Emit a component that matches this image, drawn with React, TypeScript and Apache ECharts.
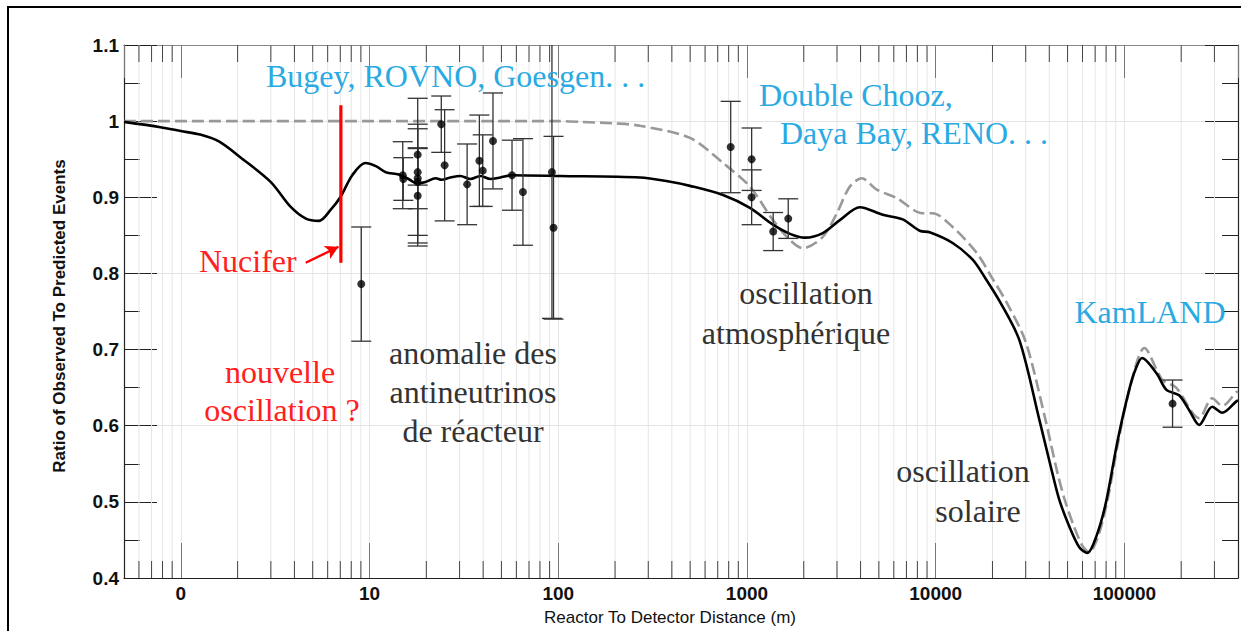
import { useEffect, useRef } from "react";
import * as echarts from "echarts";

// ---- axes ----
const xMin = 0.5;
const xMax = 400000;
const yMin = 0.4;
const yMax = 1.1;
const xTickValues = [1, 10, 100, 1000, 10000, 100000];
const xTickLabels = ["0", "10", "100", "1000", "10000", "100000"];
const minorTickValues = [
  0.6, 0.7, 0.8, 0.9,
  2, 3, 4, 5, 6, 7, 8, 9,
  20, 30, 40, 50, 60, 70, 80, 90,
  200, 300, 400, 500, 600, 700, 800, 900,
  2000, 3000, 4000, 5000, 6000, 7000, 8000, 9000,
  20000, 30000, 40000, 50000, 60000, 70000, 80000, 90000,
  200000, 300000,
];

// ---- curve with sterile neutrino (solid) ----
const solidDist = [
  0.5, 0.78, 1.0, 1.28, 1.6, 2.08, 3.0, 3.8, 4.6, 5.4, 6.2, 7.0, 8.1, 9.5, 10.8,
  12.2, 14.3, 16.1, 18.0, 19.8, 22.4, 24.1, 26.8, 30.3, 34.2, 38.7, 43.7, 49.3,
  56.9, 102, 271, 380, 499, 747, 1037, 1374, 1690, 2028, 2524, 3105, 3963, 5245,
  6687, 8230, 9290, 12300, 15700, 18200, 22000, 27800, 35500, 41600, 45300,
  51200, 57800, 63700, 71100, 80000, 92000, 106000, 115000, 124000, 148000,
  167000, 195000, 221000, 249000, 292000, 330000, 392000, 400000,
];
const solidRatio = [
  0.999, 0.992, 0.987, 0.982, 0.973, 0.952, 0.92, 0.888, 0.872, 0.869, 0.883,
  0.9, 0.929, 0.945, 0.941, 0.933, 0.93, 0.924, 0.918, 0.92, 0.925, 0.923, 0.926,
  0.928, 0.924, 0.928, 0.924, 0.926, 0.929, 0.928, 0.926, 0.921, 0.915, 0.903,
  0.886, 0.864, 0.852, 0.847, 0.853, 0.87, 0.887, 0.877, 0.871, 0.856, 0.854,
  0.84, 0.818, 0.795, 0.762, 0.712, 0.607, 0.537, 0.502, 0.467, 0.44, 0.433,
  0.455, 0.5, 0.58, 0.647, 0.675, 0.689, 0.669, 0.647, 0.64, 0.62, 0.601, 0.625,
  0.617, 0.632, 0.633,
];

// ---- standard 3-flavour curve (dashed) ----
const dashedDist = [
  0.5, 100, 131, 200, 271, 499, 747, 1037, 1374, 1690, 1978, 2524, 2993, 3508,
  4058, 4874, 6220, 8535, 9636, 12300, 16500, 19800, 24000, 30000, 38000, 44000,
  48000, 54000, 60000, 65000, 72000, 81000, 93000, 107000, 127600, 159000,
  188000, 249000, 292000, 330000, 392000, 400000,
];
const dashedRatio = [
  1.0, 1.0, 0.999, 0.997, 0.994, 0.978, 0.945, 0.914, 0.87, 0.844, 0.833, 0.848,
  0.879, 0.914, 0.925, 0.91, 0.899, 0.879, 0.879, 0.861, 0.827, 0.795, 0.76,
  0.71, 0.61, 0.54, 0.505, 0.468, 0.442, 0.434, 0.452, 0.5, 0.58, 0.65, 0.702,
  0.66, 0.65, 0.61, 0.636, 0.626, 0.644, 0.645,
];

// ---- measurements ----
const pointDist = [
  9.04, 15.0, 15.1, 18.0, 18.0, 18.0, 18.0, 18.0, 24.0, 25.0, 32.9, 38.2, 39.8,
  45.1, 56.9, 65.0, 92.6, 94.4, 820, 1059, 1059, 1377, 1655, 180000,
];
const pointRatio = [
  0.786, 0.929, 0.924, 0.956, 0.933, 0.925, 0.92, 0.902, 0.996, 0.942, 0.917,
  0.948, 0.935, 0.974, 0.929, 0.907, 0.933, 0.86, 0.966, 0.95, 0.9, 0.855, 0.872,
  0.629,
];
const pointErr = [
  0.075, 0.044, 0.028, 0.04, 0.097, 0.04, 0.07, 0.062, 0.037, 0.073, 0.053, 0.06,
  0.047, 0.063, 0.046, 0.07, 0.192, 0.12, 0.06, 0.041, 0.036, 0.025, 0.026,
  0.031,
];

// ---- Nucifer marker ----
const nuciferDist = 7.05;
const nuciferRange = [0.814, 1.021];
const arrowFrom = [4.59, 0.814];
const arrowTo = [6.85, 0.835];

const BLUE = "#2aaae2";
const RED = "#ff2020";
const DARK = "#333333";
const SERIF = '32px "Liberation Serif", "DejaVu Serif", serif';

export default function App() {
  const ref = useRef<HTMLDivElement>(null);

  useEffect(() => {
    const chart = echarts.init(ref.current!, null, { renderer: "svg" });

    const labelStyle = {
      fontSize: 19,
      fontWeight: "bold" as const,
      fontFamily: '"Liberation Sans", Arial, sans-serif',
      color: "#111",
    };

    const txt = (
      text: string,
      x: number,
      y: number,
      fill: string,
      align: string = "center"
    ) => ({
      type: "text",
      x,
      y,
      z: 100,
      style: {
        text,
        fill,
        font: SERIF,
        textAlign: align,
        textVerticalAlign: "middle",
      },
    });

    const option: any = {
      animation: false,
      backgroundColor: "#fff",
      grid: { left: 124, top: 45, width: 1114, height: 533, containLabel: false },
      xAxis: [
        {
          type: "log",
          logBase: 10,
          min: xMin,
          max: xMax,
          position: "bottom",
          axisLine: { lineStyle: { color: "#222", width: 1.2 } },
          axisTick: { inside: true, length: 35, lineStyle: { color: "#777" } },
          axisLabel: {
            ...labelStyle,
            margin: 6,
            showMinLabel: false,
            showMaxLabel: false,
            formatter: (v: number) => {
              const i = xTickValues.findIndex(
                (t) => Math.abs(Math.log10(t) - Math.log10(v)) < 1e-6
              );
              return i >= 0 ? xTickLabels[i] : "";
            },
          },
          splitLine: { show: true, lineStyle: { color: "#e6e6e6" } },
        },
        {
          type: "log",
          logBase: 10,
          min: xMin,
          max: xMax,
          position: "top",
          axisLine: { lineStyle: { color: "#888", width: 1.2 } },
          axisTick: { inside: true, length: 33, lineStyle: { color: "#777" } },
          axisLabel: { show: false },
          splitLine: { show: false },
        },
      ],
      yAxis: [
        {
          type: "value",
          min: yMin,
          max: yMax,
          interval: 0.1,
          position: "left",
          axisLine: { show: true, lineStyle: { color: "#222", width: 1.2 } },
          axisTick: { inside: true, length: 33, lineStyle: { color: "#222" } },
          minorTick: { show: true, splitNumber: 2, length: 16, lineStyle: { color: "#222" } },
          axisLabel: {
            ...labelStyle,
            margin: 5,
            formatter: (v: number) => String(Math.round(v * 10) / 10),
          },
          splitLine: { show: false },
        },
        {
          type: "value",
          min: yMin,
          max: yMax,
          interval: 0.1,
          position: "right",
          axisLine: { show: true, lineStyle: { color: "#222", width: 1.2 } },
          axisTick: { inside: true, length: 33, lineStyle: { color: "#222" } },
          minorTick: { show: true, splitNumber: 2, length: 16, lineStyle: { color: "#222" } },
          axisLabel: { show: false },
          splitLine: { show: false },
        },
        {
          type: "value",
          min: yMin,
          max: yMax,
          interval: 0.2,
          position: "left",
          axisLine: { show: false },
          axisTick: { show: false },
          axisLabel: { show: false },
          splitLine: { show: true, lineStyle: { color: "#e3e3e3" } },
        },
      ],
      series: [
        {
          type: "custom",
          name: "minor",
          silent: true,
          z: 1,
          xAxisIndex: 0,
          yAxisIndex: 0,
          data: minorTickValues.map((v) => [v, yMin]),
          renderItem: (_p: any, api: any) => {
            const v = api.value(0);
            const b = api.coord([v, yMin]);
            const t = api.coord([v, yMax]);
            return {
              type: "group",
              children: [
                {
                  type: "line",
                  shape: { x1: b[0], y1: b[1], x2: t[0], y2: t[1] },
                  style: { stroke: "#e6e6e6", lineWidth: 1 },
                },
                {
                  type: "line",
                  shape: { x1: b[0], y1: b[1], x2: b[0], y2: b[1] - 17 },
                  style: { stroke: "#444", lineWidth: 1 },
                },
                {
                  type: "line",
                  shape: { x1: t[0], y1: t[1], x2: t[0], y2: t[1] + 17 },
                  style: { stroke: "#444", lineWidth: 1 },
                },
              ],
            };
          },
        },
        {
          type: "line",
          name: "3 flavours",
          z: 3,
          xAxisIndex: 0,
          yAxisIndex: 0,
          data: dashedDist.map((d, i) => [d, dashedRatio[i]]),
          showSymbol: false,
          symbol: "none",
          smooth: 0.3,
          lineStyle: { color: "#999", width: 2.6, type: [12, 5] },
        },
        {
          type: "line",
          name: "sterile",
          z: 4,
          xAxisIndex: 0,
          yAxisIndex: 0,
          data: solidDist.map((d, i) => [d, solidRatio[i]]),
          showSymbol: false,
          symbol: "none",
          smooth: 0.3,
          lineStyle: { color: "#000", width: 2.6 },
        },
        {
          type: "custom",
          name: "errors",
          z: 5,
          silent: true,
          xAxisIndex: 0,
          yAxisIndex: 0,
          data: pointDist.map((d, i) => [d, pointRatio[i], pointErr[i]]),
          renderItem: (_p: any, api: any) => {
            const x = api.value(0);
            const y = api.value(1);
            const e = api.value(2);
            const hiRaw = y + e;
            const hi = Math.min(hiRaw, yMax);
            const lo = Math.max(y - e, yMin);
            const p1 = api.coord([x, hi]);
            const p2 = api.coord([x, lo]);
            const w = 10;
            const st = { stroke: "#333", lineWidth: 1.3 };
            const children: any[] = [
              { type: "line", shape: { x1: p1[0], y1: p1[1], x2: p2[0], y2: p2[1] }, style: st },
              { type: "line", shape: { x1: p2[0] - w, y1: p2[1], x2: p2[0] + w, y2: p2[1] }, style: st },
            ];
            if (hiRaw <= yMax) {
              children.push({
                type: "line",
                shape: { x1: p1[0] - w, y1: p1[1], x2: p1[0] + w, y2: p1[1] },
                style: st,
              });
            }
            return { type: "group", children };
          },
        },
        {
          type: "scatter",
          name: "data",
          z: 6,
          xAxisIndex: 0,
          yAxisIndex: 0,
          data: pointDist.map((d, i) => [d, pointRatio[i]]),
          symbol: "circle",
          symbolSize: 8,
          itemStyle: { color: "#000" },
        },
        {
          type: "line",
          name: "Nucifer",
          z: 7,
          xAxisIndex: 0,
          yAxisIndex: 0,
          data: [
            [nuciferDist, nuciferRange[0]],
            [nuciferDist, nuciferRange[1]],
          ],
          showSymbol: false,
          symbol: "none",
          lineStyle: { color: "#ff0000", width: 3.2 },
          markLine: {
            silent: true,
            symbol: ["none", "arrow"],
            symbolSize: [11, 13],
            label: { show: false },
            lineStyle: { color: "#ff0000", width: 2.4, type: "solid" },
            data: [[{ coord: arrowFrom }, { coord: arrowTo }]],
          },
        },
      ],
      graphic: [
        {
          type: "line",
          z: 100,
          shape: { x1: 7, y1: 7, x2: 1241, y2: 7 },
          style: { stroke: "#000", lineWidth: 2 },
        },
        {
          type: "line",
          z: 100,
          shape: { x1: 8, y1: 7, x2: 8, y2: 631 },
          style: { stroke: "#000", lineWidth: 2 },
        },
        {
          type: "text",
          x: 670,
          y: 617,
          z: 100,
          style: {
            text: "Reactor To Detector Distance (m)",
            fill: "#111",
            font: '17px "Liberation Sans", Arial, sans-serif',
            textAlign: "center",
            textVerticalAlign: "middle",
          },
        },
        {
          type: "text",
          x: 59,
          y: 316,
          rotation: Math.PI / 2,
          z: 100,
          style: {
            text: "Ratio of Observed To Predicted Events",
            fill: "#111",
            font: 'bold 17px "Liberation Sans", Arial, sans-serif',
            textAlign: "center",
            textVerticalAlign: "middle",
          },
        },
        txt("Bugey, ROVNO, Goesgen. . .", 266, 76, BLUE, "left"),
        txt("Double Chooz,", 759, 95, BLUE, "left"),
        txt("Daya Bay, RENO. . .", 780, 133, BLUE, "left"),
        txt("KamLAND", 1150, 312, BLUE),
        txt("Nucifer", 199, 261, RED, "left"),
        txt("nouvelle", 280, 372, RED),
        txt("oscillation ?", 282, 410, RED),
        txt("anomalie des", 473, 353, DARK),
        txt("antineutrinos", 473, 392, DARK),
        txt("de réacteur", 473, 431, DARK),
        txt("oscillation", 806, 293, DARK),
        txt("atmosphérique", 796, 333, DARK),
        txt("oscillation", 963, 471, DARK),
        txt("solaire", 978, 511, DARK),
      ],
    };

    chart.setOption(option);
    return () => chart.dispose();
  }, []);

  return (
    <div
      ref={ref}
      style={{
        position: "absolute",
        left: 0,
        top: 0,
        width: 1241,
        height: 631,
        background: "#fff",
      }}
    />
  );
}
